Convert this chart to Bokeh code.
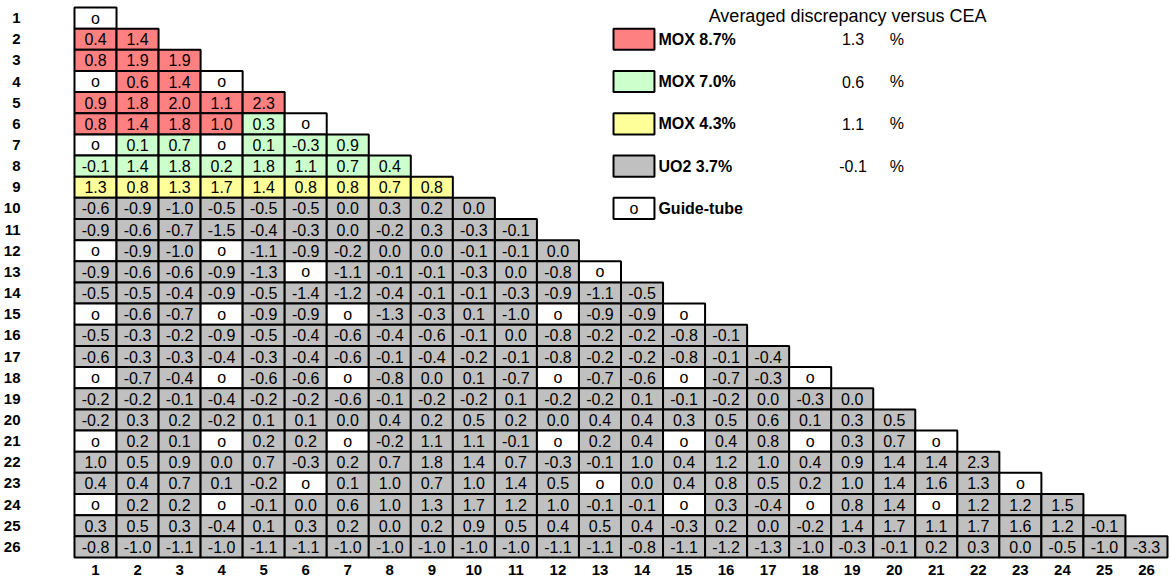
from bokeh.plotting import figure
from bokeh.models import Range1d, FixedTicker, ColumnDataSource
from bokeh.core.properties import value
from bokeh.embed import file_html
from bokeh.resources import INLINE

G = None  # guide-tube position

row_1 = [G]
row_2 = [0.4, 1.4]
row_3 = [0.8, 1.9, 1.9]
row_4 = [G, 0.6, 1.4, G]
row_5 = [0.9, 1.8, 2.0, 1.1, 2.3]
row_6 = [0.8, 1.4, 1.8, 1.0, 0.3, G]
row_7 = [G, 0.1, 0.7, G, 0.1, -0.3, 0.9]
row_8 = [-0.1, 1.4, 1.8, 0.2, 1.8, 1.1, 0.7, 0.4]
row_9 = [1.3, 0.8, 1.3, 1.7, 1.4, 0.8, 0.8, 0.7, 0.8]
row_10 = [-0.6, -0.9, -1.0, -0.5, -0.5, -0.5, 0.0, 0.3, 0.2, 0.0]
row_11 = [-0.9, -0.6, -0.7, -1.5, -0.4, -0.3, 0.0, -0.2, 0.3, -0.3, -0.1]
row_12 = [G, -0.9, -1.0, G, -1.1, -0.9, -0.2, 0.0, 0.0, -0.1, -0.1, 0.0]
row_13 = [-0.9, -0.6, -0.6, -0.9, -1.3, G, -1.1, -0.1, -0.1, -0.3, 0.0, -0.8, G]
row_14 = [-0.5, -0.5, -0.4, -0.9, -0.5, -1.4, -1.2, -0.4, -0.1, -0.1, -0.3, -0.9, -1.1, -0.5]
row_15 = [G, -0.6, -0.7, G, -0.9, -0.9, G, -1.3, -0.3, 0.1, -1.0, G, -0.9, -0.9, G]
row_16 = [-0.5, -0.3, -0.2, -0.9, -0.5, -0.4, -0.6, -0.4, -0.6, -0.1, 0.0, -0.8, -0.2, -0.2, -0.8, -0.1]
row_17 = [-0.6, -0.3, -0.3, -0.4, -0.3, -0.4, -0.6, -0.1, -0.4, -0.2, -0.1, -0.8, -0.2, -0.2, -0.8, -0.1, -0.4]
row_18 = [G, -0.7, -0.4, G, -0.6, -0.6, G, -0.8, 0.0, 0.1, -0.7, G, -0.7, -0.6, G, -0.7, -0.3, G]
row_19 = [-0.2, -0.2, -0.1, -0.4, -0.2, -0.2, -0.6, -0.1, -0.2, -0.2, 0.1, -0.2, -0.2, 0.1, -0.1, -0.2, 0.0, -0.3, 0.0]
row_20 = [-0.2, 0.3, 0.2, -0.2, 0.1, 0.1, 0.0, 0.4, 0.2, 0.5, 0.2, 0.0, 0.4, 0.4, 0.3, 0.5, 0.6, 0.1, 0.3, 0.5]
row_21 = [G, 0.2, 0.1, G, 0.2, 0.2, G, -0.2, 1.1, 1.1, -0.1, G, 0.2, 0.4, G, 0.4, 0.8, G, 0.3, 0.7, G]
row_22 = [1.0, 0.5, 0.9, 0.0, 0.7, -0.3, 0.2, 0.7, 1.8, 1.4, 0.7, -0.3, -0.1, 1.0, 0.4, 1.2, 1.0, 0.4, 0.9, 1.4, 1.4, 2.3]
row_23 = [0.4, 0.4, 0.7, 0.1, -0.2, G, 0.1, 1.0, 0.7, 1.0, 1.4, 0.5, G, 0.0, 0.4, 0.8, 0.5, 0.2, 1.0, 1.4, 1.6, 1.3, G]
row_24 = [G, 0.2, 0.2, G, -0.1, 0.0, 0.6, 1.0, 1.3, 1.7, 1.2, 1.0, -0.1, -0.1, G, 0.3, -0.4, G, 0.8, 1.4, G, 1.2, 1.2, 1.5]
row_25 = [0.3, 0.5, 0.3, -0.4, 0.1, 0.3, 0.2, 0.0, 0.2, 0.9, 0.5, 0.4, 0.5, 0.4, -0.3, 0.2, 0.0, -0.2, 1.4, 1.7, 1.1, 1.7, 1.6, 1.2, -0.1]
row_26 = [-0.8, -1.0, -1.1, -1.0, -1.1, -1.1, -1.0, -1.0, -1.0, -1.0, -1.0, -1.1, -1.1, -0.8, -1.1, -1.2, -1.3, -1.0, -0.3, -0.1, 0.2, 0.3, 0.0, -0.5, -1.0, -3.3]

rows = [row_1, row_2, row_3, row_4, row_5, row_6, row_7, row_8, row_9, row_10,
        row_11, row_12, row_13, row_14, row_15, row_16, row_17, row_18, row_19,
        row_20, row_21, row_22, row_23, row_24, row_25, row_26]

# fuel type of each cell in rows 1-9 (R: MOX 8.7%, G: MOX 7.0%, Y: MOX 4.3%, o: guide-tube)
fuel_1 = "o"
fuel_2 = "RR"
fuel_3 = "RRR"
fuel_4 = "oRRo"
fuel_5 = "RRRRR"
fuel_6 = "RRRRGo"
fuel_7 = "oGGoGGG"
fuel_8 = "GGGGGGGG"
fuel_9 = "YYYYYYYYY"
fuel_upper = [fuel_1, fuel_2, fuel_3, fuel_4, fuel_5, fuel_6, fuel_7, fuel_8, fuel_9]
# rows 10-26 are all UO2 (U) except guide-tubes

fuel_colors = {"R": "#FF8080", "G": "#CCFFCC", "Y": "#FFFF99", "U": "#C0C0C0", "o": "#FFFFFF"}

legend_codes = ["R", "G", "Y", "U", "o"]
legend_labels = ["MOX 8.7%", "MOX 7.0%", "MOX 4.3%", "UO2 3.7%", "Guide-tube"]
legend_avg = [1.3, 0.6, 1.1, -0.1]
legend_title = "Averaged discrepancy versus CEA"

tick_labels = list(range(1, 27))

# build cell table
xs, ys, fills, labels = [], [], [], []
for r, vals in enumerate(rows, start=1):
    for c, v in enumerate(vals, start=1):
        if v is None:
            code = "o"
        elif r <= len(fuel_upper):
            code = fuel_upper[r - 1][c - 1]
        else:
            code = "U"
        xs.append(c)
        ys.append(r)
        fills.append(fuel_colors[code])
        labels.append("o" if v is None else f"{v:.1f}")

src = ColumnDataSource(dict(x=xs, y=ys, fill=fills, label=labels))

FONT = value("Liberation Sans")

p = figure(width=1171, height=580,
           x_range=Range1d(0.31, 26.595), y_range=Range1d(27.59, 0.169),
           x_axis_location=None,
           output_backend="svg", toolbar_location=None,
           min_border_left=64, min_border_right=0, min_border_top=0, min_border_bottom=0)
p.grid.visible = False
p.outline_line_color = None
p.background_fill_color = "white"

p.rect(x="x", y="y", width=1, height=1, fill_color="fill", line_color="black",
       line_width=2, source=src)
p.text(x="x", y="y", text="label", text_align="center", text_baseline="middle",
       text_font=FONT, text_font_size="16px", text_color="black", source=src)

# row numbers: left axis
ax = p.yaxis[0]
ax.ticker = FixedTicker(ticks=tick_labels)
ax.major_label_text_font = "Liberation Sans"
ax.major_label_text_font_style = "bold"
ax.major_label_text_font_size = "15px"
ax.major_label_text_color = "black"
ax.major_tick_line_color = None
ax.minor_tick_line_color = None
ax.axis_line_color = None
ax.major_label_standoff = 40

# column numbers under the grid
col_y = 27.07
p.text(x=tick_labels, y=[col_y] * len(tick_labels), text=[str(t) for t in tick_labels],
       text_align="center", text_baseline="middle", text_font=FONT,
       text_font_style="bold", text_font_size="15px", text_color="black")

# legend block
leg_y = [2, 4, 6, 8, 10]
leg_src = ColumnDataSource(dict(
    y=leg_y,
    fill=[fuel_colors[c] for c in legend_codes],
    label=legend_labels,
))
p.rect(x=13.809, y="y", width=0.974, height=1, fill_color="fill", line_color="black",
       line_width=2, source=leg_src)
p.text(x=14.39, y="y", text="label", text_align="left", text_baseline="middle",
       text_font=FONT, text_font_style="bold", text_font_size="16px", source=leg_src)
p.text(x=[13.809], y=[leg_y[4]], text=["o"], text_align="center", text_baseline="middle",
       text_font=FONT, text_font_size="16px")

avg_src = ColumnDataSource(dict(y=leg_y[:4], avg=[f"{a:.1f}" for a in legend_avg],
                                pct=["%"] * 4))
p.text(x=19.02, y="y", text="avg", text_align="center", text_baseline="middle",
       text_font=FONT, text_font_size="16px", source=avg_src)
p.text(x=20.065, y="y", text="pct", text_align="center", text_baseline="middle",
       text_font=FONT, text_font_size="16px", source=avg_src)
p.text(x=[18.89], y=[0.9], text=[legend_title], text_align="center", text_baseline="middle",
       text_font=FONT, text_font_size="18px")

open("out.html", "w").write(file_html(p, INLINE))
